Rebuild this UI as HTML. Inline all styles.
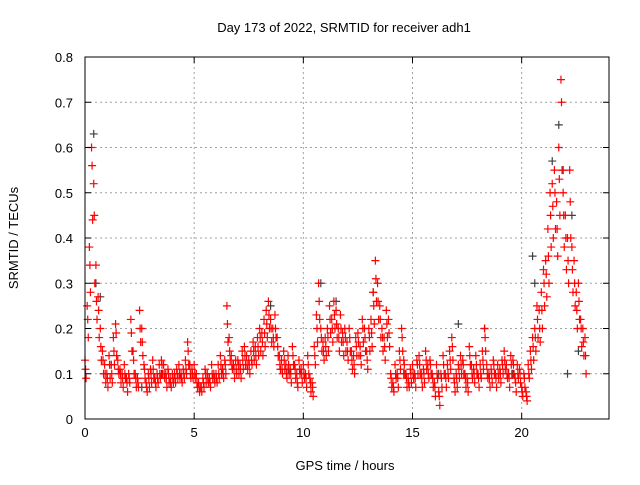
<!DOCTYPE html>
<html><head><meta charset="utf-8"><style>
body{margin:0;background:#fff;}
svg text{font-family:"Liberation Sans",sans-serif;font-size:13px;fill:#000;}
</style></head><body>
<svg id="chart" width="640" height="480" xmlns="http://www.w3.org/2000/svg">
<rect width="640" height="480" fill="#fff"/>
<g id="grid"></g><g id="gray"></g><g id="red"></g><g id="axes"></g>
<text x="344" y="32" text-anchor="middle">Day 173 of 2022, SRMTID for receiver adh1</text>
<text x="345" y="470" text-anchor="middle">GPS time / hours</text>
<text transform="translate(18,238) rotate(-90)" text-anchor="middle">SRMTID / TECUs</text>
</svg>
<script>
const xTicks=[0,5,10,15,20];
const yTicks=[0,0.1,0.2,0.3,0.4,0.5,0.6,0.7,0.8];
const yTickLabels=["0","0.1","0.2","0.3","0.4","0.5","0.6","0.7","0.8"];
const redStart=0, redStep=0.1;
const redA=[.13,.25,.38,.6,.52,.34,.27,.2,.15,.12,
.1,.14,.12,.18,.21,.13,.11,.1,.12,.09,
.1,.22,.15,.1,.09,.24,.2,.12,.08,.1,
.11,.13,.09,.1,.12,.13,.12,.1,.11,.09,
.1,.1,.11,.12,.1,.11,.13,.17,.12,.11,
.12,.1,.08,.07,.09,.11,.1,.09,.12,.1,
.1,.12,.14,.11,.13,.25,.18,.14,.12,.13,
.13,.12,.15,.16,.14,.13,.15,.17,.16,.18,
.2,.19,.22,.24,.26,.22,.2,.23,.18,.14,
.13,.15,.12,.14,.11,.16,.12,.1,.13,.11,
.12,.1,.14,.09,.08,.16,.23,.3,.2,.17,
.18,.2,.25,.22,.26,.24,.2,.23,.19,.2,
.17,.2,.15,.14,.18,.19,.16,.22,.2,.15,
.2,.22,.28,.35,.3,.25,.2,.18,.24,.22,
.1,.08,.12,.1,.15,.2,.13,.1,.09,.11,
.12,.1,.13,.14,.1,.11,.15,.12,.13,.1,
.08,.12,.06,.1,.14,.1,.12,.15,.18,.09,
.1,.12,.14,.13,.1,.09,.16,.12,.11,.14,
.1,.12,.15,.2,.12,.1,.11,.13,.1,.12,
.11,.13,.15,.12,.1,.14,.13,.09,.12,.11,
.07,.1,.06,.12,.15,.18,.2,.25,.24,.28,
.33,.35,.42,.5,.52,.55,.48,.6,.75,.5,
.45,.4,.55,.38,.35,.28,.3,.22,.2,.18];
const redB=[.09,.18,.28,.44,.3,.22,.18,.13,.1,.08,
.07,.09,.08,.12,.14,.1,.08,.07,.09,.06,
.08,.15,.1,.07,.07,.17,.14,.09,.06,.07,
.08,.09,.07,.08,.09,.1,.09,.07,.08,.07,
.08,.08,.09,.09,.08,.09,.1,.12,.09,.09,
.09,.07,.06,.06,.07,.08,.08,.07,.09,.08,
.08,.09,.1,.09,.1,.17,.13,.11,.09,.1,
.1,.09,.11,.12,.11,.1,.12,.13,.12,.14,
.15,.14,.16,.18,.2,.17,.16,.18,.14,.11,
.1,.11,.09,.1,.08,.12,.09,.07,.1,.08,
.09,.07,.1,.06,.05,.12,.17,.22,.15,.13,
.14,.15,.19,.17,.2,.18,.15,.17,.14,.15,
.13,.15,.11,.1,.14,.14,.12,.17,.15,.11,
.15,.16,.21,.26,.22,.18,.15,.13,.18,.16,
.07,.06,.09,.07,.11,.15,.1,.07,.07,.08,
.09,.07,.1,.1,.07,.08,.11,.09,.1,.07,
.05,.09,.03,.07,.1,.07,.09,.11,.13,.06,
.07,.09,.1,.1,.07,.06,.12,.09,.08,.1,
.07,.09,.11,.15,.09,.07,.08,.1,.07,.09,
.08,.1,.11,.09,.07,.1,.1,.06,.09,.08,
.05,.07,.04,.09,.11,.13,.15,.18,.17,.2,
.25,.27,.3,.38,.4,.42,.36,.45,.55,.38,
.33,.3,.4,.28,.25,.2,.22,.16,.14,.1];
const redC=[.11,.22,.34,.56,.45,.26,.24,.16,.13,.1,
.09,.12,.1,.15,.19,.11,.1,.09,.1,.08,
.09,.19,.13,.09,.08,.2,.17,.11,.07,.09,
.1,.11,.08,.09,.1,.12,.1,.09,.1,.08,
.09,.09,.1,.1,.09,.1,.11,.15,.1,.1,
.1,.08,.07,.07,.08,.1,.09,.08,.1,.09,
.09,.1,.12,.1,.12,.21,.15,.12,.11,.11,
.12,.11,.13,.14,.12,.12,.13,.15,.14,.16,
.18,.17,.19,.21,.23,.2,.18,.2,.16,.12,
.11,.13,.1,.12,.1,.14,.11,.08,.11,.1,
.1,.09,.12,.08,.07,.14,.2,.26,.18,.15,
.16,.18,.22,.2,.23,.21,.18,.2,.17,.18,
.15,.18,.13,.12,.16,.17,.14,.2,.18,.13,
.18,.19,.25,.31,.26,.22,.18,.16,.21,.19,
.09,.07,.1,.09,.13,.18,.12,.09,.08,.1,
.1,.09,.12,.12,.09,.1,.13,.1,.12,.09,
.07,.1,.05,.09,.12,.09,.1,.13,.16,.08,
.09,.11,.12,.12,.09,.08,.14,.1,.1,.12,
.09,.1,.13,.18,.1,.09,.1,.12,.09,.1,
.1,.12,.13,.1,.09,.12,.12,.08,.1,.1,
.06,.09,.05,.1,.13,.16,.18,.22,.2,.24,
.3,.32,.36,.45,.47,.5,.42,.53,.7,.45,
.4,.35,.48,.33,.3,.24,.26,.2,.17,.14];
const grayT=[0.4,0.5,0.7,1.2,2.6,3.5,4.8,6.3,8.5,9.3,10.8,11.5,13.2,14.6,16.2,17.1,18.3,19.6,20.5,20.6,21.4,21.7,21.9,22.1,22.3,22.6];
const grayV=[0.63,0.3,0.27,0.12,0.07,0.1,0.12,0.11,0.25,0.11,0.3,0.26,0.28,0.1,0.1,0.21,0.2,0.1,0.36,0.3,0.57,0.65,0.55,0.1,0.45,0.15];
const X0=85,X1=609,XMAX=24,Y0=419,Y1=57,YMAX=0.8;
const xs=v=>X0+(X1-X0)*v/XMAX, ys=v=>Y0-(Y0-Y1)*v/YMAX;
const NS="http://www.w3.org/2000/svg";
function mk(tag,parent,attrs){const e=document.createElementNS(NS,tag);for(const k in attrs)e.setAttribute(k,attrs[k]);parent.appendChild(e);return e;}
const grid=document.getElementById('grid'),axes=document.getElementById('axes');
xTicks.forEach(t=>{
 if(t>0){const l=mk('line',grid,{x1:xs(t),x2:xs(t),y1:Y1,y2:Y0,stroke:'#a0a0a0','stroke-dasharray':'2,3'});
 
 }
 const tl=mk('text',axes,{x:xs(t),y:Y0+18,'text-anchor':'middle'});tl.textContent=t;
 
 
 mk('line',axes,{x1:xs(t),x2:xs(t),y1:Y0,y2:Y0-6,stroke:'#000'});
 mk('line',axes,{x1:xs(t),x2:xs(t),y1:Y1,y2:Y1+6,stroke:'#000'});
});
yTicks.forEach((t,i)=>{
 if(t>0&&t<YMAX){const l=mk('line',grid,{x1:X0,x2:X1,y1:ys(t),y2:ys(t),stroke:'#a0a0a0','stroke-dasharray':'2,3'});
 
 }
 const tl=mk('text',axes,{x:X0-12,y:ys(t)+5,'text-anchor':'end'});tl.textContent=yTickLabels[i];
 
 
 mk('line',axes,{x1:X0,x2:X0+6,y1:ys(t),y2:ys(t),stroke:'#000'});
 mk('line',axes,{x1:X1,x2:X1-6,y1:ys(t),y2:ys(t),stroke:'#000'});
});
const fr=mk('rect',axes,{x:X0,y:Y1,width:X1-X0,height:Y0-Y1,fill:'none',stroke:'#000'});


function plus(g,t,v,c,name){const x=xs(t),y=ys(v);
 const p=mk('path',g,{d:`M${x-4},${y}h8M${x},${y-4}v8`,stroke:c,'stroke-width':1.2,fill:'none'});
 
 }
const gg=document.getElementById('gray'),rg=document.getElementById('red');
grayT.forEach((t,i)=>plus(gg,t,grayV[i],'#404040','gray-point'));
redA.forEach((v,i)=>plus(rg,redStart+i*redStep,v,'#ff0000','red-point'));
redB.forEach((v,i)=>plus(rg,redStart+i*redStep+0.05,v,'#ff0000','red-point'));
redC.forEach((v,i)=>plus(rg,redStart+i*redStep+0.025,v,'#ff0000','red-point'));
</script>
</body></html>
